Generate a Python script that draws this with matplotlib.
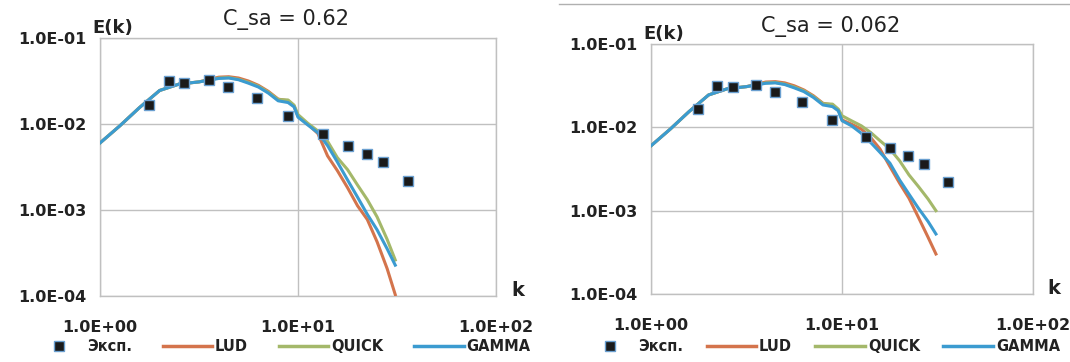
import matplotlib.pyplot as plt
from matplotlib.lines import Line2D

# Experimental points (same in both panels)
k_exp = [1.77, 2.22, 2.67, 3.55, 4.43, 6.2, 8.9, 13.4, 17.9, 22.2, 26.9, 36.0]
E_exp = [0.0165, 0.0316, 0.0302, 0.0324, 0.0266, 0.0201, 0.0124,
         0.0077, 0.0056, 0.0045, 0.0036, 0.0022]

# k grid for the computed spectra
k_calc = [1.0, 1.26, 1.58, 2.0, 2.51, 3.16, 3.98, 4.47, 5.01, 5.62, 6.31, 7.08, 7.94,
          8.91, 9.55, 10.0, 11.2, 12.6, 14.1, 15.8, 17.8, 20.0, 22.4, 25.1, 28.2, 31.0]

# C_sa = 0.62
lud_1 = [0.00603, 0.00955, 0.01549, 0.02455, 0.02917, 0.03090, 0.03508, 0.03548, 0.03428,
         0.03162, 0.02818, 0.02399, 0.01950, 0.01862, 0.01622, 0.01230, 0.01000, 0.00776,
         0.00427, 0.00288, 0.00182, 0.00112, 0.000776, 0.000427, 0.000209, 0.000104]
quick_1 = [0.00603, 0.00955, 0.01549, 0.02455, 0.02917, 0.03090, 0.03428, 0.03467, 0.03311,
           0.03055, 0.02754, 0.02344, 0.01928, 0.01905, 0.01660, 0.01288, 0.01023, 0.00832,
           0.00631, 0.00407, 0.00295, 0.00195, 0.00132, 0.000832, 0.000457, 0.000263]
gamma_1 = [0.00603, 0.00955, 0.01549, 0.02455, 0.02917, 0.03090, 0.03388, 0.03428, 0.03273,
           0.02985, 0.02692, 0.02291, 0.01862, 0.01778, 0.01585, 0.01202, 0.00977, 0.00794,
           0.00562, 0.00363, 0.00224, 0.00141, 0.000891, 0.000589, 0.000355, 0.000229]

# C_sa = 0.062
lud_2 = [0.00603, 0.00955, 0.01549, 0.02455, 0.02917, 0.03090, 0.03508, 0.03548, 0.03428,
         0.03162, 0.02818, 0.02399, 0.01950, 0.01862, 0.01622, 0.01230, 0.01096, 0.00955,
         0.00759, 0.00550, 0.00339, 0.00214, 0.00141, 0.000832, 0.000479, 0.000302]
quick_2 = [0.00603, 0.00955, 0.01549, 0.02455, 0.02917, 0.03090, 0.03428, 0.03467, 0.03311,
           0.03055, 0.02754, 0.02344, 0.01928, 0.01905, 0.01660, 0.01380, 0.01202, 0.01047,
           0.00871, 0.00692, 0.00550, 0.00398, 0.00269, 0.00195, 0.00138, 0.00100]
gamma_2 = [0.00603, 0.00955, 0.01549, 0.02455, 0.02917, 0.03090, 0.03388, 0.03428, 0.03273,
           0.02985, 0.02692, 0.02291, 0.01862, 0.01778, 0.01585, 0.01202, 0.01047, 0.00851,
           0.00661, 0.00501, 0.00372, 0.00234, 0.00158, 0.00107, 0.000741, 0.000525]

titles = ["C_sa = 0.62", "C_sa = 0.062"]
x_ticks = [1, 10, 100]
x_labels = ["1.0E+00", "1.0E+01", "1.0E+02"]
y_ticks = [1e-4, 1e-3, 1e-2, 1e-1]
y_labels = ["1.0E-04", "1.0E-03", "1.0E-02", "1.0E-01"]
legend_names = ["Эксп.", "LUD", "QUICK", "GAMMA"]

c_lud = "#d4744c"
c_quick = "#a4b86a"
c_gamma = "#3b9bd0"
c_grid = "#c0c0c0"

fig = plt.figure(figsize=(10.7, 3.62), dpi=100)
ax1 = fig.add_axes([0.0935, 0.182, 0.3700, 0.713])
ax2 = fig.add_axes([0.6085, 0.188, 0.3570, 0.690])

# axes, series, title, legend centre x, legend column spacing
panels = [(ax1, lud_1, quick_1, gamma_1, titles[0], 0.264, 2.1),
          (ax2, lud_2, quick_2, gamma_2, titles[1], 0.769, 1.6)]

for ax, lud, quick, gamma, title, leg_x, col_sp in panels:
    ax.set_xscale("log")
    ax.set_yscale("log")
    ax.plot(k_calc, lud, color=c_lud, lw=2.2, zorder=3)
    ax.plot(k_calc, quick, color=c_quick, lw=2.2, zorder=3)
    ax.plot(k_calc, gamma, color=c_gamma, lw=2.2, zorder=4)
    ax.plot(k_exp, E_exp, ls="none", marker="s", ms=7.8, mfc="#1a1a1a",
            mec="#6a9fd0", mew=1.0, zorder=5)
    ax.set_xlim(1, 100)
    ax.set_ylim(1e-4, 1e-1)
    ax.set_xticks(x_ticks)
    ax.set_xticklabels(x_labels)
    ax.set_yticks(y_ticks)
    ax.set_yticklabels(y_labels)
    ax.minorticks_off()
    ax.tick_params(length=0, labelsize=11.5, colors="#222222")
    ax.tick_params(axis="x", pad=17)
    ax.tick_params(axis="y", pad=10)
    for lab in ax.get_xticklabels() + ax.get_yticklabels():
        lab.set_fontweight("bold")
    ax.grid(True, color=c_grid, lw=1.0)
    for sp in ax.spines.values():
        sp.set_color(c_grid)
        sp.set_linewidth(1.0)
    ax.text(0.47, 1.07, title, transform=ax.transAxes, ha="center", va="center",
            fontsize=15, color="#222222")
    ax.text(-0.02, 1.04, "E(k)", transform=ax.transAxes, ha="left", va="center",
            fontsize=13, fontweight="bold", color="#222222")
    ax.text(1.055, 0.02, "k", transform=ax.transAxes, ha="center", va="center",
            fontsize=14, fontweight="bold", color="#222222")

    handles = [Line2D([], [], ls="none", marker="s", ms=6.5, mfc="#1a1a1a", mec="#6a9fd0"),
               Line2D([], [], color=c_lud, lw=2.5),
               Line2D([], [], color=c_quick, lw=2.5),
               Line2D([], [], color=c_gamma, lw=2.5)]
    leg = fig.legend(handles, legend_names, loc="center", bbox_to_anchor=(leg_x, 0.042),
                     ncol=4, frameon=False, handlelength=3.4, handletextpad=0.2,
                     columnspacing=col_sp, borderpad=0.1,
                     prop={"weight": "bold", "size": 10.5})
    for t in leg.get_texts():
        t.set_color("#222222")

# thin border line at the top of the right picture
fig.add_artist(Line2D([0.522, 1.0], [0.988, 0.988], color="#b0b0b0", lw=1.0))

fig.savefig("out.png", dpi=100)
